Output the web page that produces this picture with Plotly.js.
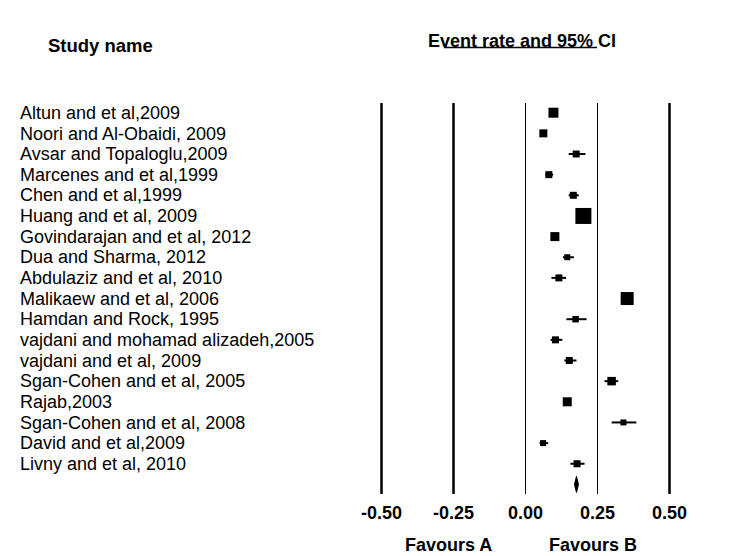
<!DOCTYPE html>
<html>
<head>
<meta charset="utf-8">
<script src="https://cdn.plot.ly/plotly-3.0.1.min.js"></script>
<style>html,body{margin:0;padding:0;background:#fff;}#chart{width:730px;height:556px;}</style>
</head>
<body>
<div id="chart"></div>
<script>
// ---- data ----
const studies = [
  "Altun and et al,2009",
  "Noori and Al-Obaidi, 2009",
  "Avsar and Topaloglu,2009",
  "Marcenes and et al,1999",
  "Chen and et al,1999",
  "Huang and et al, 2009",
  "Govindarajan and et al, 2012",
  "Dua and Sharma, 2012",
  "Abdulaziz and et al, 2010",
  "Malikaew and et al, 2006",
  "Hamdan and Rock, 1995",
  "vajdani and mohamad alizadeh,2005",
  "vajdani and et al, 2009",
  "Sgan-Cohen and et al, 2005",
  "Rajab,2003",
  "Sgan-Cohen and et al, 2008",
  "David and et al,2009",
  "Livny and et al, 2010"
];
const eventRate = [0.097, 0.062, 0.176, 0.081, 0.166, 0.201, 0.102, 0.145, 0.116, 0.353, 0.174, 0.104, 0.152, 0.299, 0.145, 0.340, 0.061, 0.179];
const lowerCI   = [0.087, 0.054, 0.150, 0.069, 0.150, 0.190, 0.094, 0.130, 0.090, 0.342, 0.142, 0.087, 0.135, 0.274, 0.137, 0.299, 0.049, 0.156];
const upperCI   = [0.107, 0.070, 0.208, 0.096, 0.185, 0.212, 0.110, 0.168, 0.141, 0.364, 0.212, 0.128, 0.177, 0.322, 0.153, 0.385, 0.079, 0.205];
const studyWeight = [10, 8, 7, 7, 7, 16, 9, 6, 7, 13, 6.5, 7, 7, 8.5, 9, 6, 6, 7];
const summary = {rate: 0.177, lower: 0.170, upper: 0.184};
const tickVals = [-0.5, -0.25, 0, 0.25, 0.5];
const tickText = ["-0.50", "-0.25", "0.00", "0.25", "0.50"];

// ---- layout helpers ----
const W = 730, H = 556, B = 62;
const plotH = H - B;
const x0px = 525.5, pxPerUnit = 288;
const row0 = 112.7, rowH = 20.65;
const rowIdx = studies.map((_, i) => i);
const FONT = "Liberation Sans, Arial, sans-serif";

const names = {
  x: studies.map(() => (20 - x0px) / pxPerUnit),
  y: rowIdx.map(i => i + 0.08),
  mode: "text",
  text: studies,
  textposition: "middle right",
  textfont: {family: FONT, size: 18, color: "#000"},
  hoverinfo: "skip",
  showlegend: false,
  cliponaxis: false
};

const points = {
  x: eventRate,
  y: rowIdx,
  mode: "markers",
  type: "scatter",
  marker: {symbol: "square", size: studyWeight, color: "#000", opacity: 1, line: {width: 0}},
  error_x: {
    type: "data", symmetric: false,
    array: eventRate.map((v, i) => upperCI[i] - v),
    arrayminus: eventRate.map((v, i) => v - lowerCI[i]),
    color: "#000", thickness: 2, width: 0
  },
  showlegend: false,
  hoverinfo: "skip"
};

const dRow = studies.length;
const dh = 0.39;
const diamond = {
  x: [summary.lower, summary.rate, summary.upper, summary.rate, summary.lower],
  y: [dRow, dRow - dh, dRow, dRow + dh, dRow],
  mode: "lines",
  fill: "toself",
  fillcolor: "#000",
  line: {color: "#000", width: 1},
  showlegend: false,
  hoverinfo: "skip"
};

const topPaper = (plotH - 103) / plotH;
const shapes = tickVals.map(v => ({
  type: "line", xref: "x", yref: "paper",
  x0: v, x1: v, y0: 0, y1: topPaper,
  line: {color: "#000", width: (v === 0 || v === 0.25) ? 1 : 2.5}
}));
shapes.push({
  type: "line", xref: "paper", yref: "paper",
  x0: 444 / W, x1: 597 / W, y0: (plotH - 47.5) / plotH, y1: (plotH - 47.5) / plotH,
  line: {color: "#000", width: 1.5}
});

const py = p => (plotH - p) / plotH;
const annotations = [
  {text: "Study name", x: 100.5 / W, y: py(45), xref: "paper", yref: "paper", showarrow: false,
   xanchor: "center", yanchor: "middle", font: {family: FONT, size: 18.5, weight: "bold", color: "#000"}},
  {text: "Event rate and 95% CI", x: 521.5 / W, y: py(41), xref: "paper", yref: "paper", showarrow: false,
   xanchor: "center", yanchor: "middle", font: {family: FONT, size: 18, weight: "bold", color: "#000"}},
  {text: "Favours A", x: 448 / W, y: py(545), xref: "paper", yref: "paper", showarrow: false,
   xanchor: "center", yanchor: "middle", font: {family: FONT, size: 18, weight: "bold", color: "#000"}},
  {text: "Favours B", x: 593 / W, y: py(545), xref: "paper", yref: "paper", showarrow: false,
   xanchor: "center", yanchor: "middle", font: {family: FONT, size: 18, weight: "bold", color: "#000"}}
];

const layout = {
  width: W, height: H,
  margin: {l: 0, r: 0, t: 0, b: B, pad: 0},
  paper_bgcolor: "#fff", plot_bgcolor: "#fff",
  showlegend: false,
  xaxis: {
    range: [-x0px / pxPerUnit, (W - x0px) / pxPerUnit],
    tickvals: tickVals, ticktext: tickText,
    ticks: "", showgrid: false, zeroline: false, showline: false,
    tickfont: {family: FONT, size: 18, weight: "bold", color: "#000"},
    ticklabelstandoff: 6,
    fixedrange: true
  },
  yaxis: {
    range: [(plotH - row0) / rowH, -row0 / rowH],
    showticklabels: false, ticks: "", showgrid: false, zeroline: false, showline: false,
    fixedrange: true
  },
  shapes: shapes,
  annotations: annotations
};

Plotly.newPlot("chart", [names, points, diamond], layout, {displayModeBar: false, staticPlot: true});
</script>
</body>
</html>
